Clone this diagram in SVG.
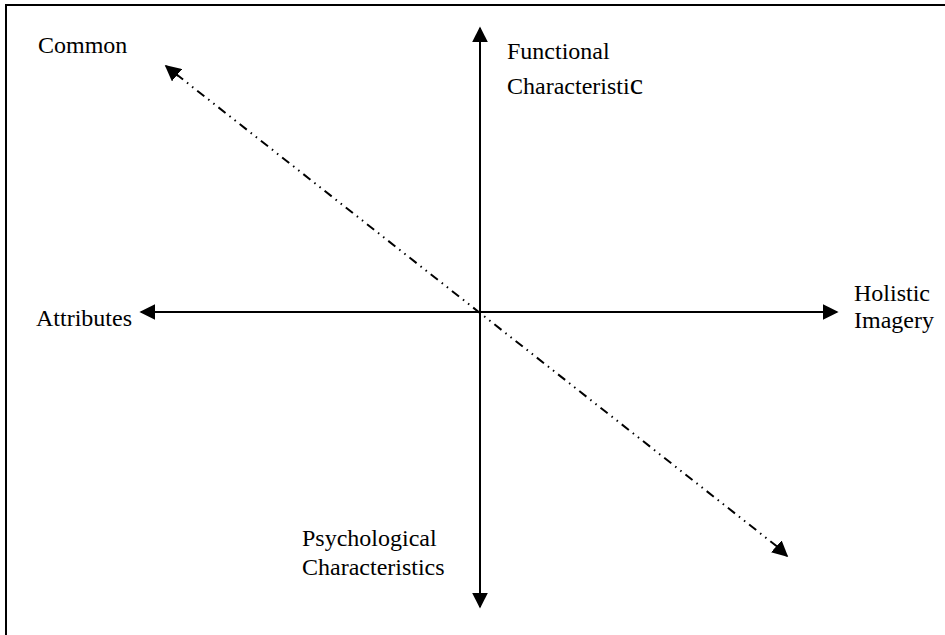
<svg xmlns="http://www.w3.org/2000/svg" width="945" height="635" viewBox="0 0 945 635">
<style>
.t{font-family:"Liberation Serif","Times New Roman",serif;font-size:24px;fill:#000}
.ax{stroke:#000;stroke-width:2;fill:none}
.dg{stroke:#000;stroke-width:2;fill:none;stroke-dasharray:9,5,1.5,5,1.5,5}
</style>
<defs>
<marker id="ahl" viewBox="0 0 10 10" refX="9" refY="5" markerWidth="16" markerHeight="16" markerUnits="userSpaceOnUse" orient="auto">
<path d="M0,0 L10,5 L0,10 z" fill="#000"/>
</marker>
</defs>
<rect width="945" height="635" fill="#fff"/>
<g id="frame"><path d="M6,635 V5 H945" class="ax"/></g>
<g id="connectors">
<line x1="480" y1="312" x2="480" y2="28" class="ax" marker-end="url(#ahl)"/>
<line x1="480" y1="312" x2="480" y2="607" class="ax" marker-end="url(#ahl)"/>
<line x1="480" y1="312" x2="141" y2="312" class="ax" marker-end="url(#ahl)"/>
<line x1="480" y1="312" x2="837" y2="312" class="ax" marker-end="url(#ahl)"/>
<line x1="178" y1="76" x2="166" y2="66" class="ax" marker-end="url(#ahl)"/>
<line x1="777" y1="547" x2="787" y2="556" class="ax" marker-end="url(#ahl)"/>
<line x1="176" y1="74" x2="779" y2="548" class="dg"/>
</g>
<g id="common"><text class="t" x="38" y="53">Common</text></g>
<g id="functional"><text class="t" x="507" y="59">Functional</text><text class="t" x="507" y="94">Characteristi<tspan font-size="30">c</tspan></text></g>
<g id="attributes"><text class="t" x="36" y="326">Attributes</text></g>
<g id="holistic"><text class="t" x="854" y="301">Holistic</text><text class="t" x="854" y="328">Imagery</text></g>
<g id="psychological"><text class="t" x="302" y="546">Psychological</text><text class="t" x="302" y="575">Characteristics</text></g>
</svg>
